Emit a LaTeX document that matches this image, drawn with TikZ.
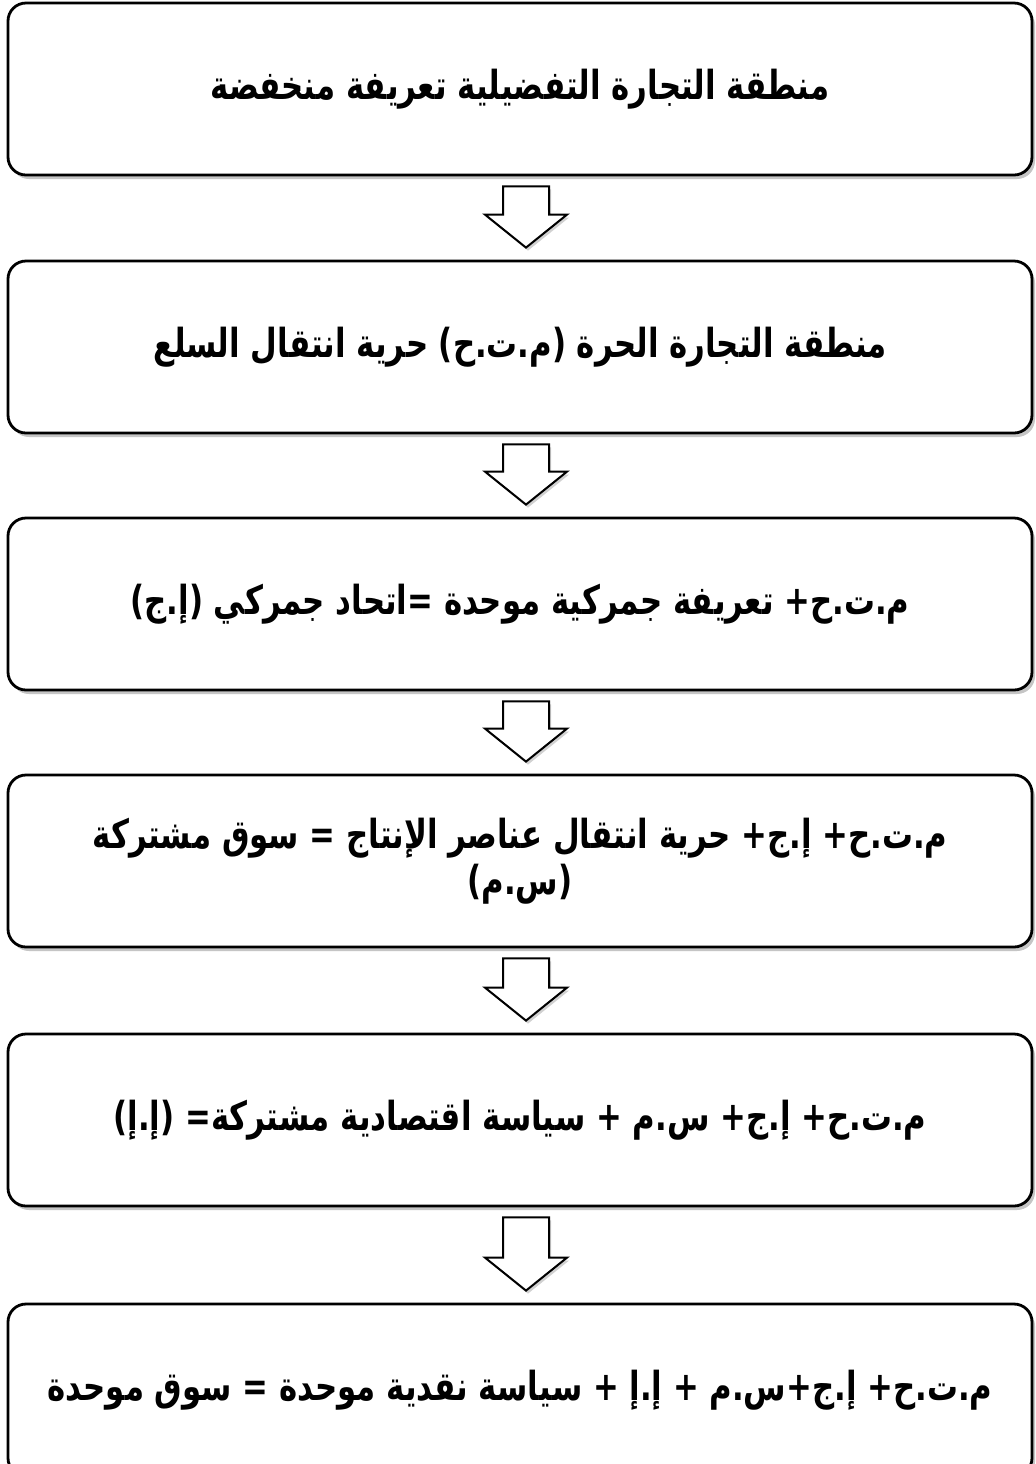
\documentclass[tikz,border=0pt]{standalone}
\usepackage{fontspec}
\newfontfamily\arabicfont[Script=Arabic,FakeStretch=0.77]{DejaVu Sans}
\TeXXeTstate=1
\usetikzlibrary{shadows,calc}

% hollow block arrow from one stage down to the next
\newcommand{\flowarrow}[2]{%
  \draw[hollow] ($(#1.south)+(-17,10)$) -- ($(#1.south)+(29,10)$)
    -- ($(#2.north)+(29,-45)$) -- ($(#2.north)+(47,-45)$)
    -- ($(#2.north)+(6,-12)$)
    -- ($(#2.north)+(-35,-45)$) -- ($(#2.north)+(-17,-45)$) -- cycle;}

\begin{document}
\begin{tikzpicture}[x=0.5pt,y=-0.5pt,
  stage/.style={draw,line width=1.4pt,rounded corners=9pt,fill=white,
    minimum width=512pt,minimum height=86pt,align=center,
    drop shadow={shadow xshift=1.5pt,shadow yshift=-2pt,fill=black!45,opacity=.5},
    font=\arabicfont\bfseries\fontsize{20}{23}\selectfont},
  hollow/.style={draw,line width=1pt,fill=white,line join=miter,
    drop shadow={shadow xshift=1pt,shadow yshift=-1.5pt,fill=black!45,opacity=.4}}]
\useasboundingbox (0,0) rectangle (1035,1464);
\fill[white] (0,0) rectangle (1035,1464);

\node[stage] (s1) at (520,89) {\beginR منطقة التجارة التفضيلية تعريفة منخفضة\endR};
\node[stage] (s2) at (520,347) {\beginR منطقة التجارة الحرة (م.ت.ح) حرية انتقال السلع\endR};
\node[stage] (s3) at (520,604) {\beginR م.ت.ح+ تعريفة جمركية موحدة =اتحاد جمركي (إ.ج)\endR};
\node[stage] (s4) at (520,861) {\beginR م.ت.ح+ إ.ج+ حرية انتقال عناصر الإنتاج = سوق مشتركة\endR\\ \beginR(س.م)\endR};
\node[stage] (s5) at (520,1120) {\beginR م.ت.ح+ إ.ج+ س.م + سياسة اقتصادية مشتركة= (إ.إ)\endR};
\node[stage] (s6) at (520,1390) {\beginR م.ت.ح+ إ.ج+س.م + إ.إ + سياسة نقدية موحدة = سوق موحدة\endR};

\flowarrow{s1}{s2}
\flowarrow{s2}{s3}
\flowarrow{s3}{s4}
\flowarrow{s4}{s5}
\flowarrow{s5}{s6}

\end{tikzpicture}
\end{document}
